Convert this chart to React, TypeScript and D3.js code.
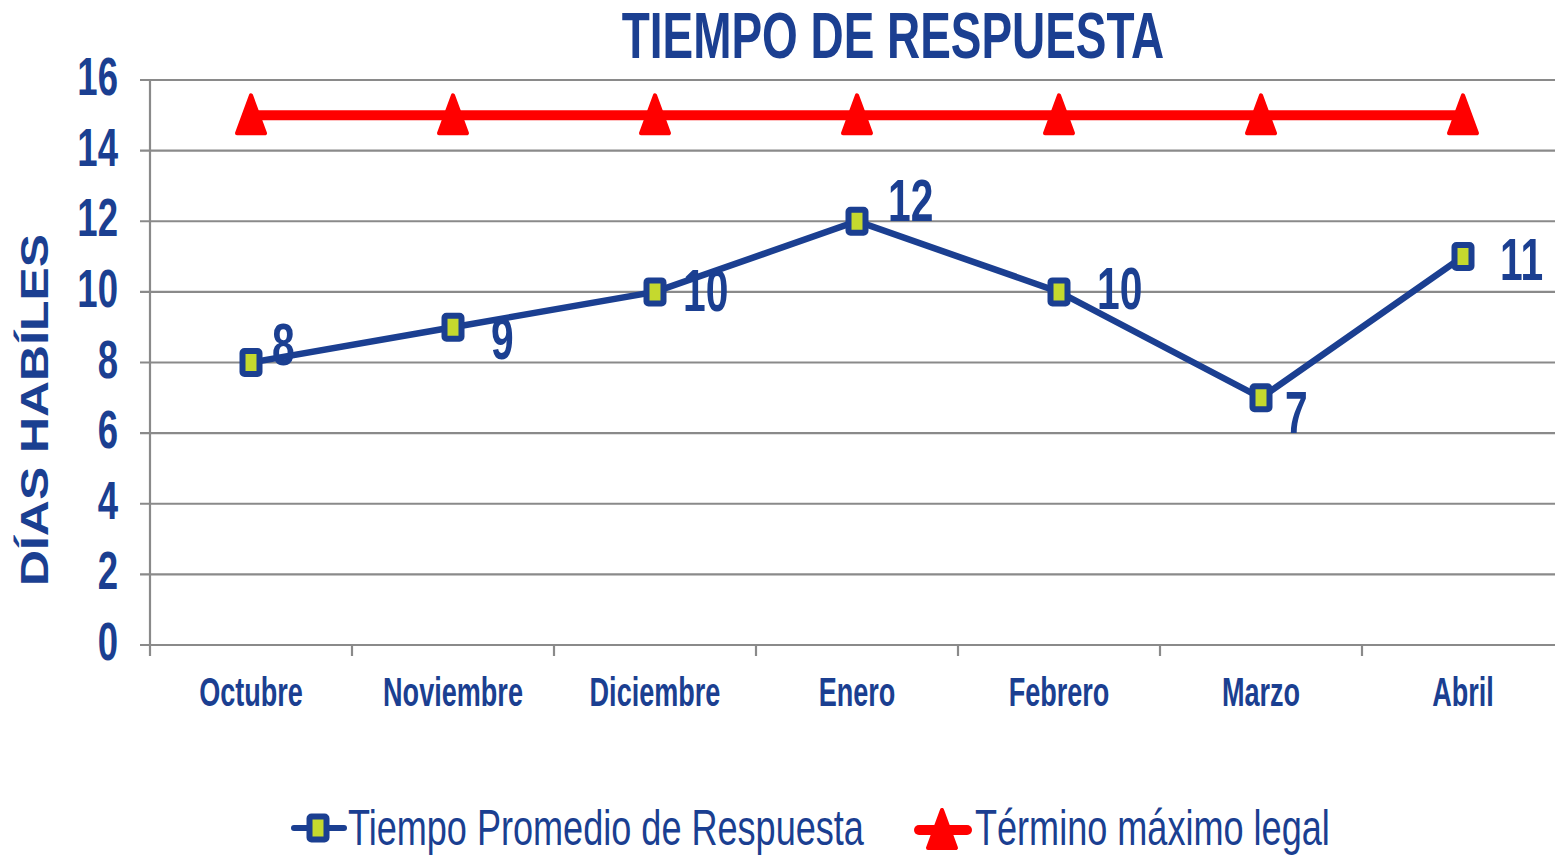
import * as d3 from 'd3';
import { useEffect, useRef } from 'react';

const months = ['Octubre', 'Noviembre', 'Diciembre', 'Enero', 'Febrero', 'Marzo', 'Abril'];
const tiempoPromedio = [8, 9, 10, 12, 10, 7, 11];
const terminoLegal = [15, 15, 15, 15, 15, 15, 15];
const yTicks = [0, 2, 4, 6, 8, 10, 12, 14, 16];
// label offsets relative to each point (dx, dy), as placed in the original
const labelOffsets: [number, number][] = [
  [21, -15],
  [38, 15],
  [28, 2],
  [31, -17],
  [38, 0],
  [24, 18],
  [37, 6],
];

const BLUE = '#1b3f91';
const RED = '#ff0000';
const LIME = '#c5d92e';
const GRID = '#8a8a8a';
const SANS = '"Liberation Sans", Arial, sans-serif';
// narrow look: Liberation Sans squeezed horizontally
const NARROW_X = 0.82;

const W = 1555;
const H = 857;

export default function App() {
  const svgRef = useRef<SVGSVGElement>(null);

  useEffect(() => {
    if (!svgRef.current) return;
    const svg = d3.select(svgRef.current);
    svg.selectAll('*').remove();

    const left = 150;
    const bandW = 202;
    const x = d3
      .scaleBand<string>()
      .domain(months)
      .range([left, left + bandW * months.length]);
    const y = d3.scaleLinear().domain([0, 16]).range([645, 80]);
    const cx = (m: string) => (x(m) ?? 0) + x.bandwidth() / 2;

    // text helper: stretched vertically like the original
    const txt = (
      g: d3.Selection<any, any, any, any>,
      tx: number,
      ty: number,
      s: string,
      size: number,
      sy: number,
      opts: { anchor?: string; weight?: string; sx?: number; rotate?: boolean } = {}
    ) =>
      g
        .append('text')
        .attr(
          'transform',
          `translate(${tx},${ty}) scale(${opts.sx ?? NARROW_X},${sy})${opts.rotate ? ' rotate(-90)' : ''}`
        )
        .attr('text-anchor', opts.anchor ?? 'middle')
        .attr('font-family', SANS)
        .attr('font-weight', opts.weight ?? 'bold')
        .attr('font-size', size)
        .attr('fill', BLUE)
        .text(s);

    // gridlines + left ticks
    const grid = svg.append('g');
    yTicks.forEach((t) => {
      grid
        .append('line')
        .attr('x1', left - 10)
        .attr('x2', W)
        .attr('y1', y(t))
        .attr('y2', y(t))
        .attr('stroke', GRID)
        .attr('stroke-width', 2.2);
    });
    grid
      .append('line')
      .attr('x1', left)
      .attr('x2', left)
      .attr('y1', y(16))
      .attr('y2', y(0) + 11)
      .attr('stroke', GRID)
      .attr('stroke-width', 2.2);
    months.forEach((m, i) => {
      if (i === 0) return;
      const bx = x(m) ?? 0;
      grid
        .append('line')
        .attr('x1', bx)
        .attr('x2', bx)
        .attr('y1', y(0))
        .attr('y2', y(0) + 11)
        .attr('stroke', GRID)
        .attr('stroke-width', 2.2);
    });

    // y tick labels
    const labels = svg.append('g');
    yTicks.forEach((t) => {
      txt(labels, 118, y(t) + 15, String(t), 43, 1.25, { anchor: 'end', sx: 0.85 });
    });

    // x labels
    months.forEach((m) => {
      txt(labels, cx(m), 706, m, 33, 1.22);
    });

    // title
    txt(labels, 893, 58, 'TIEMPO DE RESPUESTA', 56, 1.15);

    // y axis title
    txt(labels, 48, 410, 'DÍAS HABÍLES', 39, 1.28, { sx: 1, rotate: true });

    // red legal-limit line
    const line = d3
      .line<number>()
      .x((_, i) => cx(months[i]))
      .y((d) => y(d));
    svg
      .append('path')
      .datum(terminoLegal)
      .attr('d', line)
      .attr('fill', 'none')
      .attr('stroke', RED)
      .attr('stroke-width', 10);

    const triangle = (g: d3.Selection<any, any, any, any>, tx: number, ty: number) =>
      g
        .append('path')
        .attr('d', `M${tx},${ty - 20} L${tx + 14},${ty + 18} L${tx - 14},${ty + 18} Z`)
        .attr('fill', RED)
        .attr('stroke', RED)
        .attr('stroke-width', 4)
        .attr('stroke-linejoin', 'round');

    terminoLegal.forEach((v, i) => triangle(svg, cx(months[i]), y(v)));

    // blue series
    svg
      .append('path')
      .datum(tiempoPromedio)
      .attr('d', line)
      .attr('fill', 'none')
      .attr('stroke', BLUE)
      .attr('stroke-width', 6.5);

    const square = (g: d3.Selection<any, any, any, any>, tx: number, ty: number) => {
      g.append('rect')
        .attr('x', tx - 8.5)
        .attr('y', ty - 11.5)
        .attr('width', 17)
        .attr('height', 23)
        .attr('rx', 2)
        .attr('fill', LIME)
        .attr('stroke', BLUE)
        .attr('stroke-width', 6);
    };
    tiempoPromedio.forEach((v, i) => square(svg, cx(months[i]), y(v)));

    // data labels
    tiempoPromedio.forEach((v, i) => {
      const [dx, dy] = labelOffsets[i];
      txt(labels, cx(months[i]) + dx, y(v) + dy + 17, String(v), 48, 1.23, { anchor: 'start', sx: 0.85 });
    });

    // legend
    const leg = svg.append('g');
    leg
      .append('line')
      .attr('x1', 294)
      .attr('x2', 344)
      .attr('y1', 828)
      .attr('y2', 828)
      .attr('stroke', BLUE)
      .attr('stroke-width', 6)
      .attr('stroke-linecap', 'round');
    square(leg, 318, 828);
    txt(leg, 348, 845, 'Tiempo Promedio de Respuesta', 44, 1.13, { anchor: 'start', weight: 'normal' });

    leg
      .append('line')
      .attr('x1', 919)
      .attr('x2', 967)
      .attr('y1', 830)
      .attr('y2', 830)
      .attr('stroke', RED)
      .attr('stroke-width', 10)
      .attr('stroke-linecap', 'round');
    triangle(leg, 942, 830);
    txt(leg, 975, 845, 'Término máximo legal', 44, 1.13, { anchor: 'start', weight: 'normal' });
  }, []);

  return (
    <div style={{ position: 'absolute', left: 0, top: 0, width: W, height: H, background: '#fff' }}>
      <svg ref={svgRef} width={W} height={H} style={{ display: 'block' }} />
    </div>
  );
}
